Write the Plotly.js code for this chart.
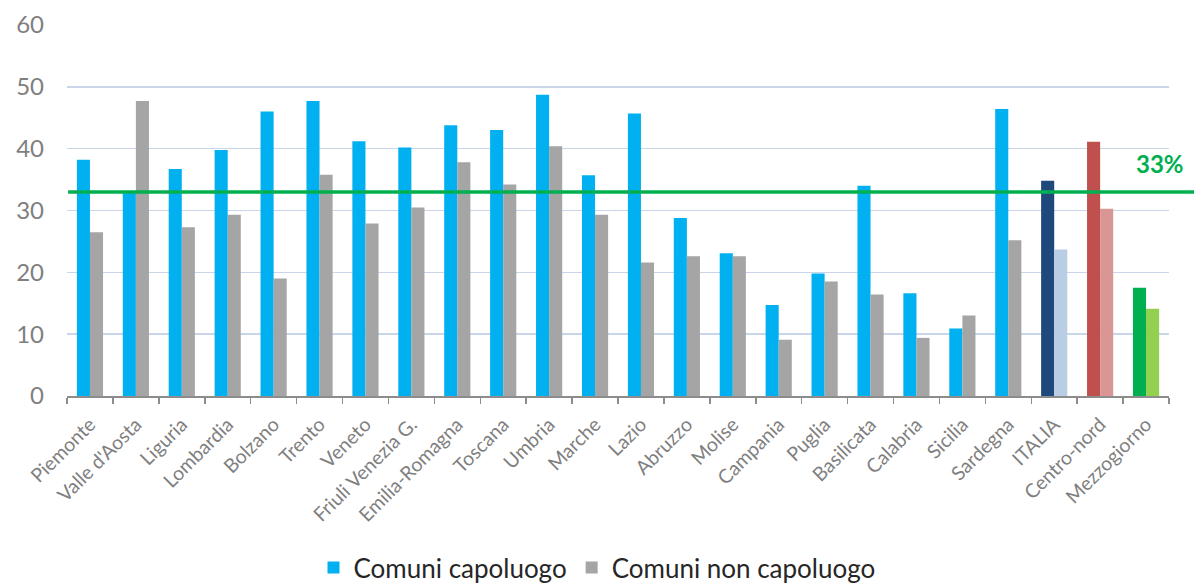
<!DOCTYPE html>
<html>
<head>
<meta charset="utf-8">
<script src="https://cdn.plot.ly/plotly-3.0.1.min.js"></script>
<style>
  html, body { margin: 0; padding: 0; background: #ffffff; }
  #chart { width: 1194px; height: 587px; }
</style>
</head>
<body>
<div id="chart"></div>
<script>
// Regions and aggregates shown along the x axis
const regions = [
  "Piemonte", "Valle d'Aosta", "Liguria", "Lombardia", "Bolzano", "Trento",
  "Veneto", "Friuli Venezia G.", "Emilia-Romagna", "Toscana", "Umbria", "Marche",
  "Lazio", "Abruzzo", "Molise", "Campania", "Puglia", "Basilicata", "Calabria",
  "Sicilia", "Sardegna", "ITALIA", "Centro-nord", "Mezzogiorno"
];

// Share (%) in provincial capitals
const capoluogo = [
  38.2, 33.1, 36.7, 39.8, 46.0, 47.7,
  41.2, 40.2, 43.8, 43.0, 48.7, 35.7,
  45.7, 28.8, 23.1, 14.7, 19.8, 34.0, 16.6,
  10.9, 46.4, 34.8, 41.1, 17.5
];

// Share (%) in the other municipalities
const nonCapoluogo = [
  26.5, 47.7, 27.3, 29.3, 19.0, 35.8,
  27.9, 30.5, 37.8, 34.2, 40.4, 29.3,
  21.6, 22.6, 22.6, 9.1, 18.5, 16.4, 9.4,
  13.0, 25.2, 23.7, 30.3, 14.1
];

// Reference level drawn as a horizontal line
const target = 33;

// Regions use the base colours; the three aggregates get their own pairs
const baseDark = "#00B0F0", baseLight = "#A5A5A5";
const aggregateDark = { "ITALIA": "#1F497D", "Centro-nord": "#C0504D", "Mezzogiorno": "#00B050" };
const aggregateLight = { "ITALIA": "#B9CDE5", "Centro-nord": "#DA9694", "Mezzogiorno": "#92D050" };
const darkColors = regions.map(r => aggregateDark[r] || baseDark);
const lightColors = regions.map(r => aggregateLight[r] || baseLight);

const font = "Lato, 'Open Sans', sans-serif";
const green = "#00B050";

const traces = [
  {
    type: "bar", name: "Comuni capoluogo",
    x: regions, y: capoluogo,
    marker: { color: darkColors },
    hoverinfo: "skip"
  },
  {
    type: "bar", name: "Comuni non capoluogo",
    x: regions, y: nonCapoluogo,
    marker: { color: lightColors },
    hoverinfo: "skip"
  }
];

const layout = {
  width: 1194, height: 587,
  margin: { l: 67, r: 25, t: 25, b: 191, autoexpand: false },
  paper_bgcolor: "#ffffff", plot_bgcolor: "#ffffff",
  barmode: "group", bargap: 0.43, bargroupgap: 0,
  font: { family: font, color: "#7F7F7F" },
  xaxis: {
    type: "category",
    tickangle: -45,
    tickfont: { family: font, size: 19.5, color: "#7F7F7F" },
    showgrid: false,
    showline: true, linecolor: "#8C8C8C", linewidth: 1.5,
    ticks: "outside", tickson: "boundaries", ticklen: 6,
    tickcolor: "#8C8C8C", tickwidth: 1.5,
    ticklabelstandoff: 8,
    automargin: false,
    fixedrange: true
  },
  yaxis: {
    range: [0, 60],
    dtick: 10,
    tickfont: { family: font, size: 24, color: "#7F7F7F" },
    showgrid: true, gridcolor: "#C9D6EA", gridwidth: 1.5,
    zeroline: false, showline: false,
    ticks: "", ticklabelstandoff: 22,
    automargin: false,
    fixedrange: true
  },
  showlegend: true,
  legend: {
    orientation: "h",
    xref: "container", yref: "paper",
    x: 0.5, xanchor: "center",
    y: -0.526, yanchor: "bottom",
    font: { family: font, size: 26, color: "#262626" },
    itemclick: false, itemdoubleclick: false
  },
  shapes: [
    {
      type: "line", xref: "paper", yref: "y",
      x0: 0.001, x1: 1.03, y0: target, y1: target,
      line: { color: green, width: 3.5 },
      layer: "above"
    }
  ],
  annotations: [
    {
      xref: "paper", yref: "y",
      x: 0.992, y: target, yshift: 28,
      text: "<b>" + target + "%</b>",
      showarrow: false,
      font: { family: font, size: 24, color: green },
      xanchor: "center", yanchor: "middle"
    }
  ]
};

Plotly.newPlot("chart", traces, layout, { displayModeBar: false, staticPlot: true });
</script>
</body>
</html>
